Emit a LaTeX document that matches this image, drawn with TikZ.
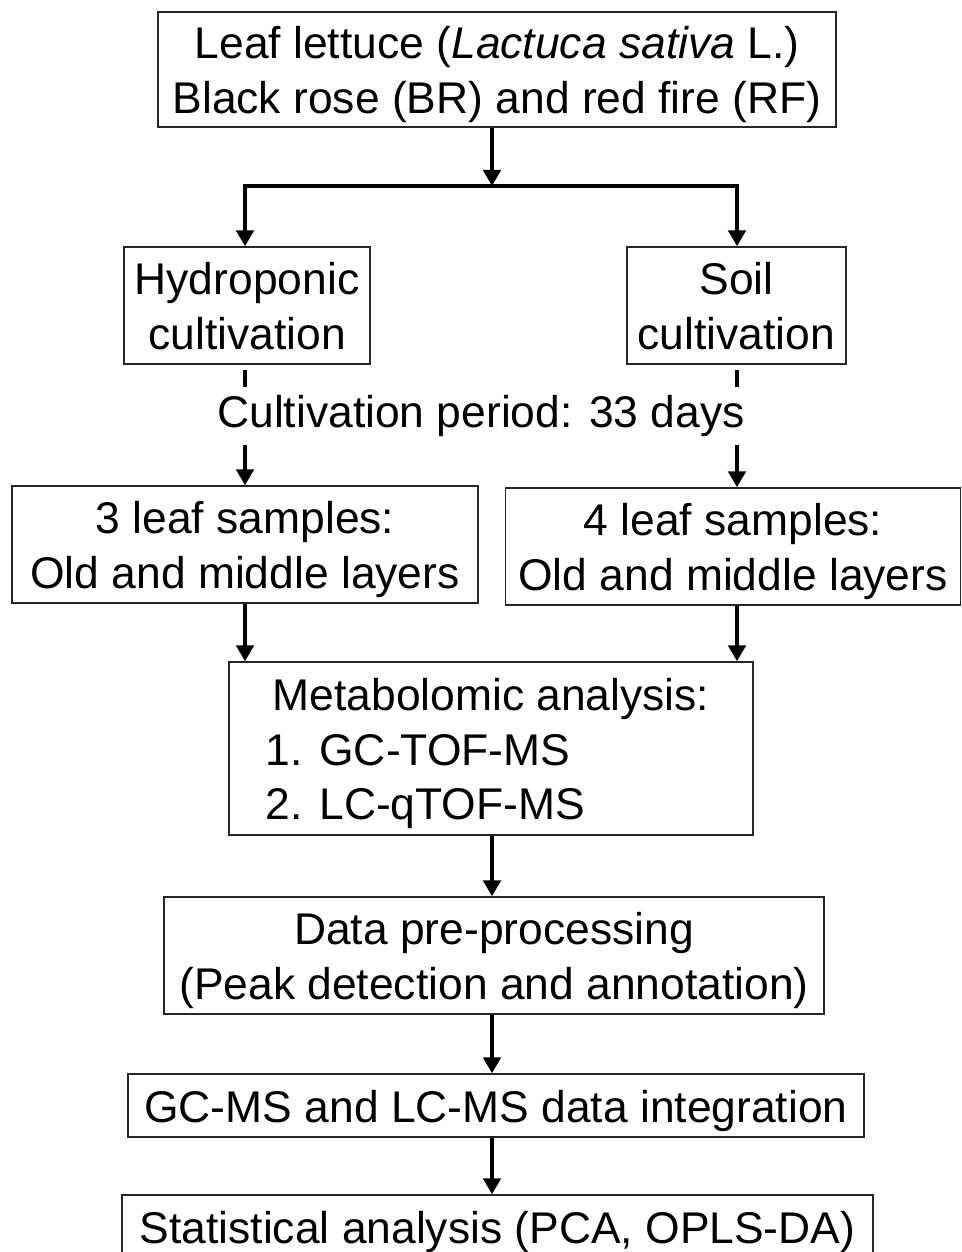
\documentclass[tikz,border=0pt]{standalone}
\usepackage{fontspec}
\setmainfont{Liberation Sans}
\usetikzlibrary{arrows.meta}
\newcommand\toprl{\rule{0pt}{32pt}}
\newcommand\botrl{\rule[-7pt]{0pt}{7pt}}
\begin{document}
\begin{tikzpicture}[x=0.75pt,y=-0.75pt,
  box/.style={draw=black!85,line width=1.1pt,inner sep=0pt,align=center,
    font=\fontsize{33.3}{41}\selectfont},
  lbl/.style={inner sep=0pt,font=\fontsize{33.3}{41}\selectfont},
  arr/.style={line width=3.5pt,-{Triangle[width=13pt,length=12pt]}},
  seg/.style={line width=3.5pt}]
\useasboundingbox (0,0) rectangle (962,1252);
\clip (0,0) rectangle (962,1252);
\node[box,minimum width=678*0.75pt,minimum height=115*0.75pt] (top) at (497,69.5)
  {\toprl Leaf lettuce (\textit{Lactuca sativa} L.)\\Black rose (BR) and red fire (RF)\botrl};
\node[box,minimum width=246*0.75pt,minimum height=117*0.75pt] (hydro) at (247,305.5)
  {\toprl Hydroponic\\cultivation\botrl};
\node[box,minimum width=219*0.75pt,minimum height=117*0.75pt] (soil) at (736.5,305.5)
  {\toprl Soil\\cultivation\botrl};
\node[lbl] (period) at (481,416) {Cultivation period: 33 days};
\node[box,minimum width=466*0.75pt,minimum height=117*0.75pt] (leafA) at (245,544.5)
  {\toprl 3 leaf samples:\\Old and middle layers\botrl};
\node[box,minimum width=455*0.75pt,minimum height=117*0.75pt] (leafB) at (733,546.5)
  {\toprl 4 leaf samples:\\Old and middle layers\botrl};
\node[box,align=left,minimum width=524*0.75pt,minimum height=173*0.75pt] (meta) at (491,748.5)
  {\toprl Metabolomic analysis:\\\hspace*{-5pt}1. GC-TOF-MS\\\hspace*{-5pt}2. LC-qTOF-MS\botrl};
\node[box,minimum width=660*0.75pt,minimum height=117*0.75pt] (data) at (494,955.5)
  {\toprl Data pre-processing\\(Peak detection and annotation)\botrl};
\node[box,minimum width=736*0.75pt,minimum height=63*0.75pt] (gc) at (496,1105.5)
  {\toprl GC-MS and LC-MS data integration\botrl};
\node[box,minimum width=751*0.75pt,minimum height=63*0.75pt] (stat) at (497.5,1226.5)
  {\toprl Statistical analysis (PCA, OPLS-DA)\botrl};
% connectors
\coordinate (split) at (492,186);
\coordinate (bl) at (245,186);
\coordinate (br) at (737,186);
\draw[arr] (top.south -| split) -- (split);
\draw[line width=3.5pt,{Triangle[width=13pt,length=12pt]}-{Triangle[width=13pt,length=12pt]}]
  (bl |- hydro.north) -- (bl) -- (br) -- (br |- soil.north);
\coordinate (d1a) at (245,370);
\coordinate (d1b) at (245,387);
\coordinate (d2a) at (737,370);
\coordinate (d2b) at (737,387);
\coordinate (a1) at (245,445);
\coordinate (a2) at (737,445);
\draw[seg] (d1a) -- (d1b);
\draw[seg] (d2a) -- (d2b);
\draw[arr] (a1) -- (a1 |- leafA.north);
\draw[arr] (a2) -- (a2 |- leafB.north);
\draw[arr] (leafA.south -| a1) -- (a1 |- meta.north);
\draw[arr] (leafB.south -| a2) -- (a2 |- meta.north);
\draw[arr] (meta.south -| split) -- (split |- data.north);
\draw[arr] (data.south -| split) -- (split |- gc.north);
\draw[arr] (gc.south -| split) -- (split |- stat.north);
\end{tikzpicture}
\end{document}
